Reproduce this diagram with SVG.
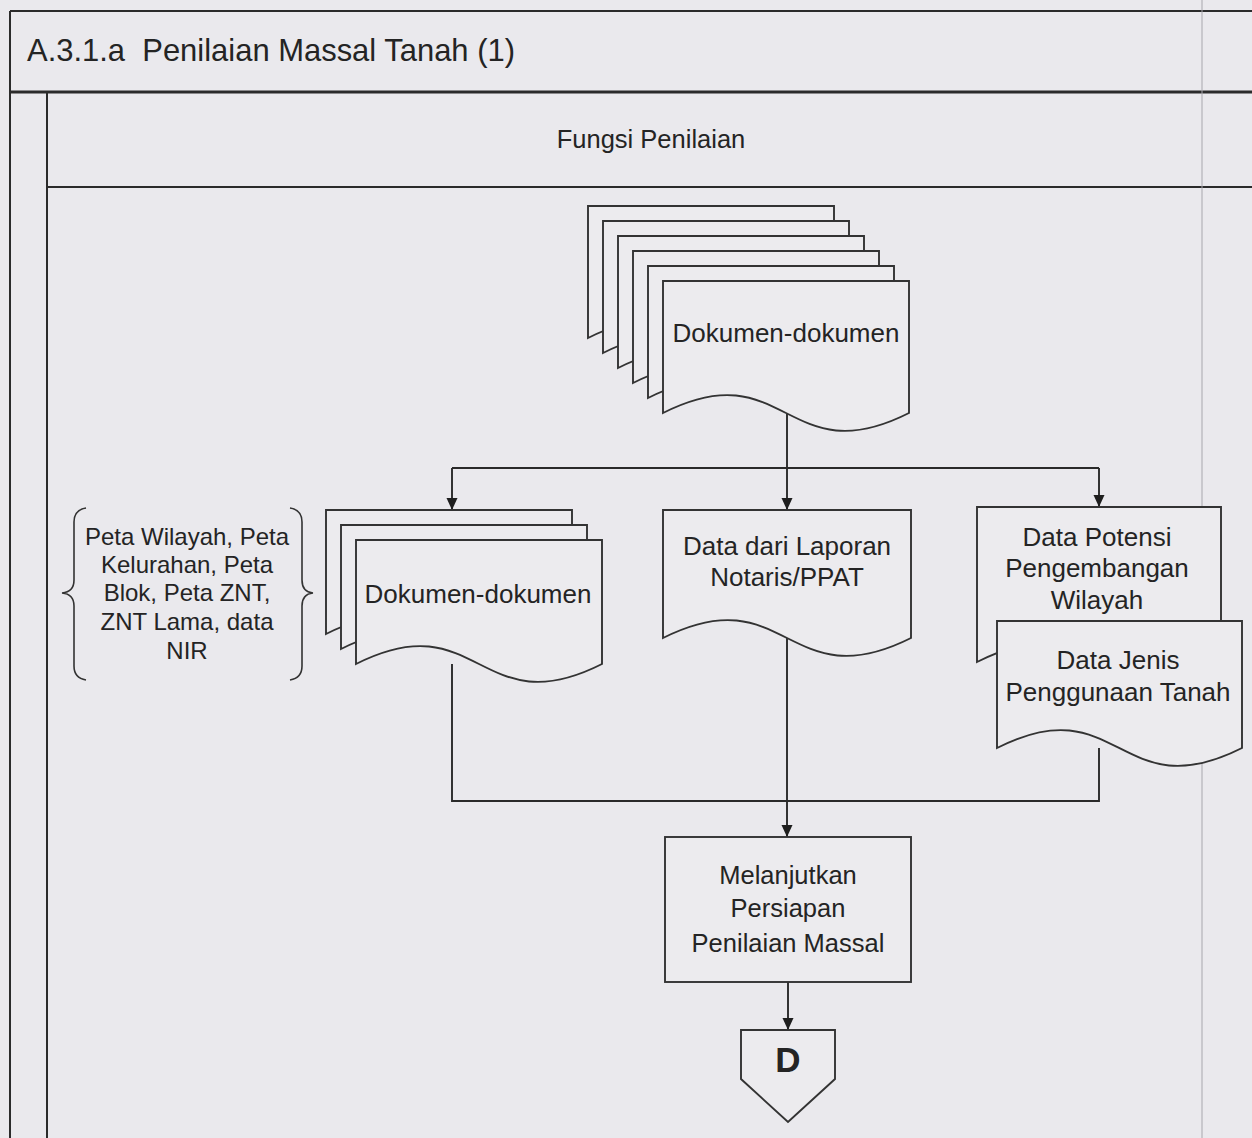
<svg xmlns="http://www.w3.org/2000/svg" width="1252" height="1138" viewBox="0 0 1252 1138">
<defs>
<style>
.frame{stroke:#2b2b2b;fill:none}
.t{font-family:"Liberation Sans",Arial,sans-serif;fill:#242424;text-anchor:middle}
.doc{fill:#ecebee;stroke:#333;stroke-width:1.9}
.box{fill:#ecebee;stroke:#333;stroke-width:1.9}
.conn{stroke:#2a2a2a;stroke-width:1.9;fill:none}
.brace{stroke:#333;stroke-width:1.6;fill:none}
</style>
<marker id="arr" markerWidth="14" markerHeight="14" refX="12" refY="5.5" orient="auto" markerUnits="userSpaceOnUse">
<path d="M0,0 L12,5.5 L0,11 Z" fill="#1e1e1e"/>
</marker>
</defs>
<rect x="0" y="0" width="1252" height="1138" fill="#eae9ed"/>
<g id="frame">
<line class="frame" x1="10" y1="11" x2="1252" y2="11" stroke-width="2"/>
<line class="frame" x1="10" y1="11" x2="10" y2="1138" stroke-width="2"/>
<line class="frame" x1="10" y1="92" x2="1252" y2="92" stroke-width="3"/>
<line class="frame" x1="47" y1="92" x2="47" y2="1138" stroke-width="2"/>
<line class="frame" x1="47" y1="187" x2="1252" y2="187" stroke-width="2"/>
<line x1="1202" y1="0" x2="1202" y2="1138" stroke="#a8a7ad" stroke-width="1"/>
<text class="t" x="27" y="61" font-size="30.5" textLength="488" lengthAdjust="spacingAndGlyphs" style="text-anchor:start;white-space:pre" xml:space="preserve">A.3.1.a  Penilaian Massal Tanah (1)</text>
<text class="t" x="651" y="148" font-size="25.5">Fungsi Penilaian</text>
</g>
<g id="connectors">
<line class="conn" x1="787" y1="413" x2="787" y2="468"/>
<line class="conn" x1="452" y1="468" x2="1099" y2="468"/>
<line class="conn" x1="452" y1="468" x2="452" y2="510" marker-end="url(#arr)"/>
<line class="conn" x1="787" y1="468" x2="787" y2="510" marker-end="url(#arr)"/>
<line class="conn" x1="1099" y1="468" x2="1099" y2="507" marker-end="url(#arr)"/>
<path class="conn" d="M452,664 V801 H1099 V748"/>
<line class="conn" x1="787" y1="638" x2="787" y2="837" marker-end="url(#arr)"/>
<line class="conn" x1="788" y1="982" x2="788" y2="1030" marker-end="url(#arr)"/>
</g>
<g id="dokumen-top">
<path class="doc" d="M588,206 H834 V338 C711,400 711,276 588,338 Z"/>
<path class="doc" d="M603,221 H849 V353 C726,415 726,291 603,353 Z"/>
<path class="doc" d="M618,236 H864 V368 C741,430 741,306 618,368 Z"/>
<path class="doc" d="M633,251 H879 V383 C756,445 756,321 633,383 Z"/>
<path class="doc" d="M648,266 H894 V398 C771,460 771,336 648,398 Z"/>
<path class="doc" d="M663,281 H909 V413 C786,475 786,351 663,413 Z"/>
<text class="t" x="786" y="342" font-size="26">Dokumen-dokumen</text>
</g>
<g id="dokumen-left">
<path class="doc" d="M326,510 H572 V634 C449,696 449,572 326,634 Z"/>
<path class="doc" d="M341,525 H587 V649 C464,711 464,587 341,649 Z"/>
<path class="doc" d="M356,540 H602 V664 C479,726 479,602 356,664 Z"/>
<text class="t" x="478" y="603" font-size="26">Dokumen-dokumen</text>
</g>
<g id="peta-list">
<path class="brace" d="M86,508 Q74,510 74,522 V580 Q74,592 62,593 Q74,594 74,606 V666 Q74,678 86,680"/>
<path class="brace" d="M290,508 Q302,510 302,522 V580 Q302,592 313,593 Q302,594 302,606 V666 Q302,678 290,680"/>
<text class="t" font-size="24"><tspan x="187" y="545">Peta Wilayah, Peta</tspan><tspan x="187" y="573">Kelurahan, Peta</tspan><tspan x="187" y="601">Blok, Peta ZNT,</tspan><tspan x="187" y="630">ZNT Lama, data</tspan><tspan x="187" y="659">NIR</tspan></text>
</g>
<g id="data-notaris">
<path class="doc" d="M663,510 H911 V638 C787,700 787,576 663,638 Z"/>
<text class="t" font-size="26"><tspan x="787" y="555">Data dari Laporan</tspan><tspan x="787" y="586">Notaris/PPAT</tspan></text>
</g>
<g id="data-potensi">
<path class="doc" d="M977,507 H1221 V662 C1099,724 1099,600 977,662 Z"/>
<text class="t" font-size="26"><tspan x="1097" y="546">Data Potensi</tspan><tspan x="1097" y="577">Pengembangan</tspan><tspan x="1097" y="609">Wilayah</tspan></text>
</g>
<g id="data-jenis">
<path class="doc" d="M997,621 H1242 V748 C1119,810 1119,686 997,748 Z"/>
<text class="t" font-size="26"><tspan x="1118" y="669">Data Jenis</tspan><tspan x="1118" y="701">Penggunaan Tanah</tspan></text>
</g>
<g id="melanjutkan">
<rect class="box" x="665" y="837" width="246" height="145"/>
<text class="t" font-size="25.5"><tspan x="788" y="884">Melanjutkan</tspan><tspan x="788" y="917">Persiapan</tspan><tspan x="788" y="952">Penilaian Massal</tspan></text>
</g>
<g id="offpage-d">
<path class="box" d="M741,1030 H835 V1079 L788,1122 L741,1079 Z"/>
<text class="t" x="788" y="1072" font-size="35" font-weight="bold">D</text>
</g>
</svg>
